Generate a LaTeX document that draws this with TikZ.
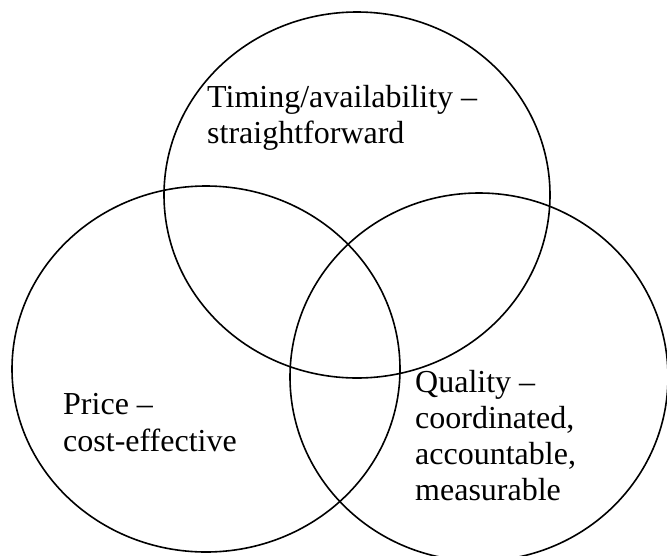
\documentclass[tikz,border=0pt]{standalone}
\usepackage{fontspec}
\setmainfont{Liberation Serif}
\begin{document}
\begin{tikzpicture}[x=1pt,y=-1pt,
  ring/.style={draw=black,line width=1.6pt},
  lbl/.style={anchor=base west,inner sep=0pt,font=\fontsize{32}{36}\selectfont}]
\useasboundingbox (0,0) rectangle (667,555);
\clip (0,0) rectangle (667,555);
\draw[ring] (357,195) ellipse [x radius=193, y radius=183];
\draw[ring] (206,369) ellipse [x radius=194, y radius=183];
\draw[ring] (479,377) ellipse [x radius=189, y radius=184];
\node[lbl] (t1) at (207,107) {Timing/availability –};
\node[lbl] (t2) at (207,143) {straightforward};
\node[lbl] (p1) at (63,414) {Price –};
\node[lbl] (p2) at (63,451) {cost-effective};
\node[lbl] (q1) at (415,392) {Quality –};
\node[lbl] (q2) at (415,428) {coordinated,};
\node[lbl] (q3) at (415,464) {accountable,};
\node[lbl] (q4) at (415,500) {measurable};
\end{tikzpicture}
\end{document}
